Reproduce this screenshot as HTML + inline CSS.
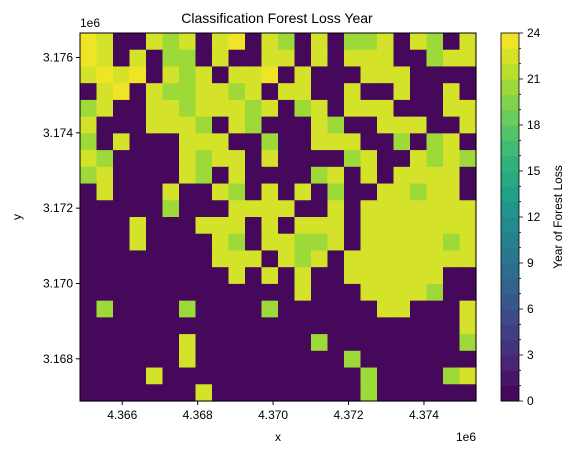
<!DOCTYPE html>
<html><head><meta charset="utf-8"><style>
body{margin:0;background:#fff;}
svg{display:block;font-family:"Liberation Sans","DejaVu Sans",sans-serif;}
</style></head><body>
<svg id="chart" width="576" height="455" viewBox="0 0 576 455"></svg>
<script>
// grid rows (top->bottom): '.'=0, 'g'=20, 'y'=22, 'Y'=23
const gridRows = [
"Yy..ygy.yY.yg.y.ggy.yg.y",
"Yy.y.gg.y..yy.y.yyy..gyy",
"yYyY.ygy.yyY.y...yyy....",
".yY.yggyygy.yy..y..y..y.",
"gy..yygyyygy.gy.yyy...yy",
"y...yyyg.yg...yg..yyy..y",
"g.y...yyy..g..yyy..g.gy.",
"yg....ygyy.y....gy..ygyg",
"gy....yg.y....gy.y.yyyy.",
".y...y..yg.y.y.g..yygyy.",
".....g...yyyy..y.yyyyyyy",
"...y...yyy.y.yyy.yyyyyyy",
"...y....yg.yyggy.yyyyygy",
"........yyy.ygy.yyyyyyyy",
".........y.y.y..yyyyyy..",
".............y...yyyyg..",
".g....g....g......yy...y",
".......................y",
"......y.......g........g",
"......y.........g.......",
"....y............g....gy",
".......y.........g......"
];
const codeValues = {".":0,"g":20,"y":22,"Y":23};
const xTicks = [4.366,4.368,4.370,4.372,4.374];
const xTickLabels = ["4.366","4.368","4.370","4.372","4.374"];
const yTicks = [3.176,3.174,3.172,3.170,3.168];
const yTickLabels = ["3.176","3.174","3.172","3.170","3.168"];
const cbTicks = [0,3,6,9,12,15,18,21,24];

const NS="http://www.w3.org/2000/svg";
const svg=document.getElementById('chart');
function mk(t,a,p){const e=document.createElementNS(NS,t);for(const k in a)e.setAttribute(k,a[k]);(p||svg).appendChild(e);return e;}
const vir=[[68,1,84],[72,40,120],[62,74,137],[49,104,142],[38,130,142],[31,158,137],[53,183,121],[109,205,89],[180,222,44],[253,231,37]];
function viridis(t){t=Math.max(0,Math.min(1,t));const f=t*9,i=Math.min(8,Math.floor(f)),r=f-i;const a=vir[i],b=vir[i+1];return `rgb(${a.map((v,k)=>Math.round(v+(b[k]-v)*r)).join(',')})`;}
function color(v){const lvl=Math.min(23,Math.floor(v));return viridis((lvl+0.5)/24);}

const L=80,R=476,T=33,B=401;
const xMin=4.36488,xMax=4.37538,yMin=3.16688,yMax=3.17665;
const sx=v=>L+(v-xMin)/(xMax-xMin)*(R-L);
const sy=v=>B-(v-yMin)/(yMax-yMin)*(B-T);
const nR=gridRows.length,nC=gridRows[0].length;
const cw=(R-L)/nC,ch=(B-T)/nR;
const g=mk('g',{});


for(let r=0;r<nR;r++)for(let c=0;c<nC;c++){
  const v=codeValues[gridRows[r][c]];
  const cell=mk('rect',{x:L+c*cw,y:T+r*ch,width:cw+0.6,height:ch+0.6,fill:color(v)},g);
  
  
}
const fr=mk('rect',{x:L,y:T,width:R-L,height:B-T,fill:'none',stroke:'#000','stroke-width':1});

xTicks.forEach((t,i)=>{const x=sx(t);mk('line',{x1:x,x2:x,y1:B,y2:B+4,stroke:'#000'});
  const tx=mk('text',{x:x,y:B+18,'text-anchor':'middle','font-size':12});tx.textContent=xTickLabels[i];
  });
yTicks.forEach((t,i)=>{const y=sy(t);mk('line',{x1:L-4,x2:L,y1:y,y2:y,stroke:'#000'});
  const tx=mk('text',{x:L-7,y:y+4,'text-anchor':'end','font-size':12});tx.textContent=yTickLabels[i];
  });
// colorbar
const CL=501,CR=519,CT=33,CB=401;
const cy=v=>CB-v/24*(CB-CT);
for(let k=0;k<24;k++){const b=mk('rect',{x:CL,y:cy(k+1),width:CR-CL,height:(CB-CT)/24+0.5,fill:color(k)});
  }
mk('rect',{x:CL,y:CT,width:CR-CL,height:CB-CT,fill:'none',stroke:'#000','stroke-width':0.8});
for(let k=0;k<=24;k++){mk('line',{x1:CR,x2:CR+(k%3==0?4:2),y1:cy(k),y2:cy(k),stroke:'#000','stroke-width':0.8});}
cbTicks.forEach(t=>{const tx=mk('text',{x:CR+8,y:cy(t)+4,'font-size':12});tx.textContent=t;
  });
</script>
<svg style="position:absolute;left:0;top:0" width="576" height="455">
<text x="277" y="23" text-anchor="middle" font-size="14" font-family="Liberation Sans, sans-serif">Classification Forest Loss Year</text>
<text x="80" y="27" font-size="12" font-family="Liberation Sans, sans-serif">1e6</text>
<text x="476" y="441" text-anchor="end" font-size="12" font-family="Liberation Sans, sans-serif">1e6</text>
<text x="278" y="441" text-anchor="middle" font-size="12" font-family="Liberation Sans, sans-serif">x</text>
<text x="21" y="217" text-anchor="middle" font-size="12" font-family="Liberation Sans, sans-serif" transform="rotate(-90 21 217)">y</text>
<text x="562" y="217" text-anchor="middle" font-size="12" font-family="Liberation Sans, sans-serif" transform="rotate(-90 562 217)">Year of Forest Loss</text>
</svg>
</body></html>
